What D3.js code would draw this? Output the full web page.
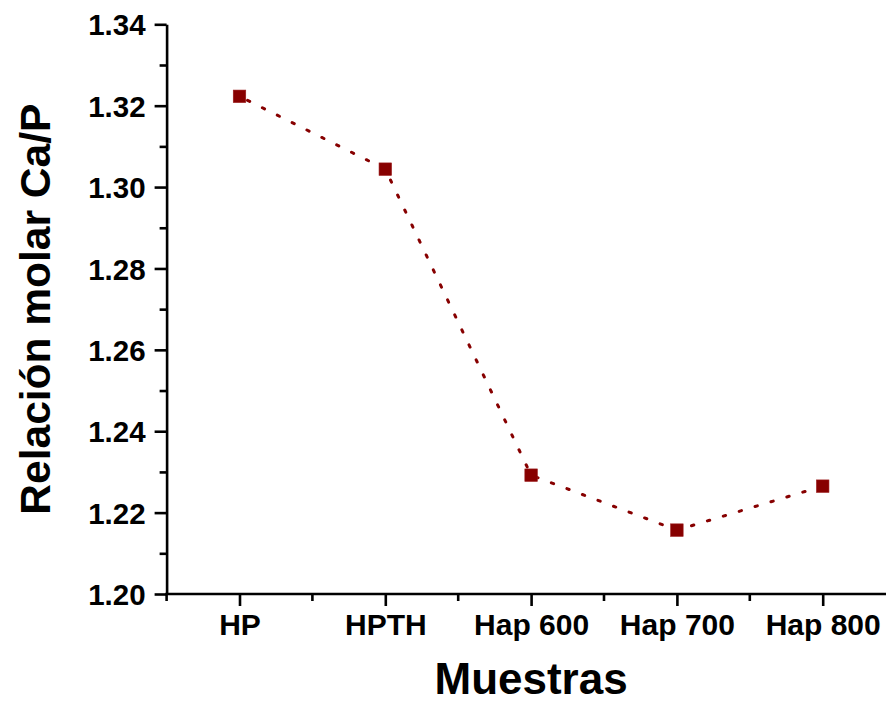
<!DOCTYPE html>
<html>
<head>
<meta charset="utf-8">
<script src="https://cdn.jsdelivr.net/npm/d3@7"></script>
<style>
  html, body { margin: 0; padding: 0; background: #ffffff; }
  svg { display: block; }
  text { font-family: "Liberation Sans", Arial, sans-serif; font-weight: bold; fill: #000; }
</style>
</head>
<body>
<svg id="chart" width="886" height="702"></svg>
<script>
// Ca/P molar ratio per sample
const muestras = ["HP", "HPTH", "Hap 600", "Hap 700", "Hap 800"];
const relacionCaP = [1.3223, 1.3044, 1.2292, 1.2157, 1.2265];
const yTicks = [1.20, 1.22, 1.24, 1.26, 1.28, 1.30, 1.32, 1.34];
const yMinorTicks = [1.21, 1.23, 1.25, 1.27, 1.29, 1.31, 1.33];

const svg = d3.select("#chart");
const plotLeft = 166.6, plotTop = 24.3, plotBottom = 594, step = 145.8;
const plotRight = plotLeft + step * muestras.length;

const x = d3.scalePoint().domain(muestras).range([plotLeft, plotRight]).padding(0.5);
const y = d3.scaleLinear().domain([1.20, 1.34]).range([plotBottom, plotTop]);

const axisColor = "#000";
const axisWidth = 2.6;

// Y axis (major ticks with labels, then minor ticks)
const yAxis = svg.append("g")
  .attr("transform", `translate(${plotLeft},0)`)
  .call(d3.axisLeft(y).tickValues(yTicks).tickFormat(d3.format(".2f")).tickSize(12).tickPadding(9).tickSizeOuter(0));
yAxis.select(".domain").attr("stroke", axisColor).attr("stroke-width", axisWidth);
yAxis.selectAll(".tick line").attr("stroke", axisColor).attr("stroke-width", axisWidth);
yAxis.selectAll(".tick text").style("font-size", "29.5px").attr("dy", "0.36em");

const yMinor = svg.append("g")
  .attr("transform", `translate(${plotLeft},0)`)
  .call(d3.axisLeft(y).tickValues(yMinorTicks).tickFormat("").tickSize(7).tickSizeOuter(0));
yMinor.select(".domain").remove();
yMinor.selectAll(".tick line").attr("stroke", axisColor).attr("stroke-width", axisWidth);

// X axis
const xAxis = svg.append("g")
  .attr("transform", `translate(0,${plotBottom})`)
  .call(d3.axisBottom(x).tickSize(12).tickPadding(8).tickSizeOuter(0));
xAxis.select(".domain").attr("stroke", axisColor).attr("stroke-width", axisWidth)
  .attr("d", `M${plotLeft - axisWidth / 2},0H${plotRight}`);
xAxis.selectAll(".tick line").attr("stroke", axisColor).attr("stroke-width", axisWidth);
xAxis.selectAll(".tick text").style("font-size", "30px").attr("dy", "0.71em");

// minor x ticks at the category boundaries
const xMinorVals = d3.range(muestras.length + 1).map(i => plotLeft + i * step);
svg.append("g")
  .selectAll("line")
  .data(xMinorVals)
  .join("line")
  .attr("x1", d => d).attr("x2", d => d)
  .attr("y1", plotBottom).attr("y2", plotBottom + 7)
  .attr("stroke", axisColor).attr("stroke-width", axisWidth);

// dotted connecting line
const color = "#870000";
const line = d3.line().x((d, i) => x(muestras[i])).y(d => y(d));
svg.append("path")
  .datum(relacionCaP)
  .attr("d", line)
  .attr("fill", "none")
  .attr("stroke", color)
  .attr("stroke-width", 3)
  .attr("stroke-dasharray", "2.4,14.2")
  .attr("stroke-dashoffset", -9)
  .attr("stroke-linecap", "round");

// square markers
const ms = 12.5;
svg.append("g")
  .selectAll("rect")
  .data(relacionCaP)
  .join("rect")
  .attr("x", (d, i) => x(muestras[i]) - ms / 2)
  .attr("y", d => y(d) - ms / 2)
  .attr("width", ms).attr("height", ms)
  .attr("fill", color)
  .attr("stroke", "#9a1a1a").attr("stroke-width", 0.6);

// axis titles
svg.append("text")
  .attr("x", (plotLeft + plotRight) / 2)
  .attr("y", 694)
  .attr("text-anchor", "middle")
  .style("font-size", "44px")
  .text("Muestras");

svg.append("text")
  .attr("transform", `translate(50,${(plotTop + plotBottom) / 2}) rotate(-90)`)
  .attr("text-anchor", "middle")
  .style("font-size", "42.5px")
  .text("Relación molar Ca/P");
</script>
</body>
</html>
